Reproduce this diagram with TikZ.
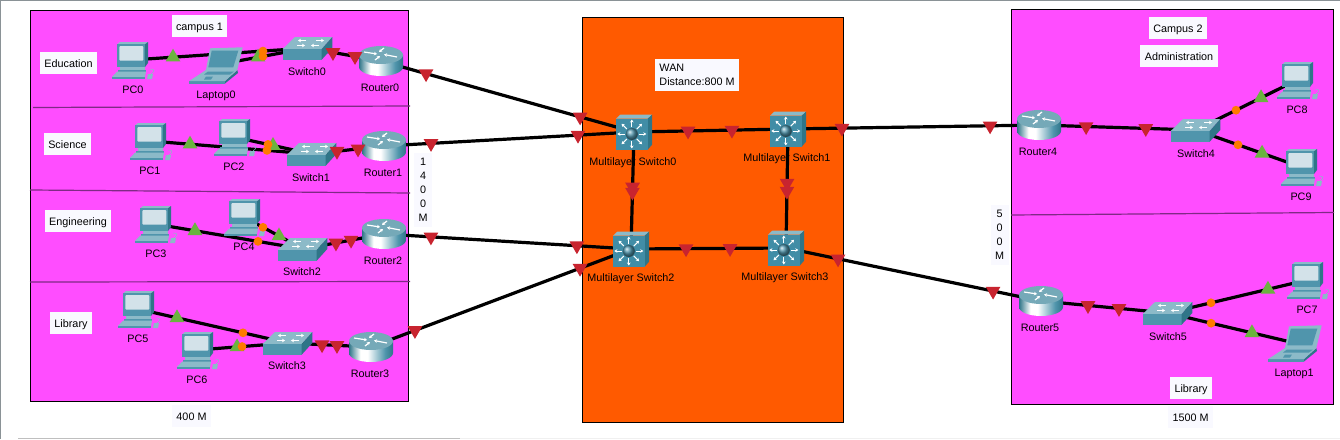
\documentclass[tikz,border=0pt]{standalone}
\usepackage{fontspec}
\setmainfont{Liberation Sans}
\usetikzlibrary{shapes.geometric,arrows.meta}
\definecolor{campusfill}{HTML}{FF4DFF}
\definecolor{wanfill}{HTML}{FF5A00}
\definecolor{boxwhite}{HTML}{F9F9FF}
\definecolor{rule}{HTML}{7F2A85}
\definecolor{iconmid}{HTML}{5095AC}
\definecolor{icondark}{HTML}{2F7588}
\definecolor{iconlight}{HTML}{8CBAC8}
\definecolor{iconscreen}{HTML}{D3E2E9}
\definecolor{mlsmid}{HTML}{418DA6}
\definecolor{redmk}{HTML}{C8242F}
\definecolor{greenmk}{HTML}{6BB33F}
\definecolor{orangemk}{HTML}{FF7A00}
\definecolor{edgegray}{HTML}{8A9296}
\pgfdeclarehorizontalshading{routerside}{100bp}{color(0bp)=(icondark); color(25bp)=(icondark); color(38bp)=(white); color(46bp)=(white); color(66bp)=(iconmid); color(75bp)=(icondark); color(100bp)=(icondark)}
\begin{document}
\begin{tikzpicture}
[
x=1pt, y=-1pt,
every node/.style={font=\fontsize{10.8}{14}\selectfont},
dev/.style={inner sep=0pt, outer sep=0pt, minimum size=0pt},
lbl/.style={inner sep=0pt, text=black, yshift=-.9pt},
textbox/.style={fill=boxwhite, inner xsep=4.5pt, inner ysep=0pt, text height=9.2pt, text depth=0pt, minimum height=22pt, align=center},
stackbox/.style={fill=boxwhite, inner xsep=4.5pt, inner ysep=5pt, align=center},
area/.style={draw=black, line width=1pt},
hrule/.style={draw=rule, line width=1.2pt},
wire/.style={draw=black, line width=3.2pt},
redmark/.style={regular polygon, regular polygon sides=3, shape border rotate=180, fill=redmk, inner sep=0pt, minimum size=17pt},
greenmark/.style={regular polygon, regular polygon sides=3, fill=greenmk, inner sep=0pt, minimum size=17pt},
orangemark/.style={circle, fill=orangemk, inner sep=0pt, minimum size=8.8pt},
tip/.style={-{Stealth[length=3pt,width=3.6pt]}, white, line width=1pt},
pcicon/.pic={
  \fill[iconlight] (-14.7,-15.7) -- (-12,-18) -- (16,-18) -- (13,-15.7) -- cycle;
  \fill[icondark] (13,-15.7) -- (16,-18) -- (16,3) -- (13,7) -- cycle;
  \fill[iconmid] (-14.7,-15.7) rectangle (13,7);
  \fill[iconscreen, rounded corners=1pt] (-12.7,-14) rectangle (11.3,.7);
  \fill[iconlight] (-12,7) rectangle (13,9.5);
  \fill[iconmid] (-14,9.5) rectangle (14,11.7);
  \fill[iconlight] (-15,11.7) -- (14,11.7) -- (13,17) -- (-20,17) -- cycle;
  \fill[iconmid] (-20,17) rectangle (13,19);
  \fill[iconlight] (16,14) -- (21,14) -- (20,19) -- (15,19) -- cycle;
  \draw[iconlight, line width=.5pt] (19,14) .. controls (23,11) and (23,9) .. (18,9);
},
laptopicon/.pic={
  \fill[iconlight] (-6,-16.7) -- (26.7,-17.7) -- (21.3,5) -- (-10,5) -- cycle;
  \fill[iconmid] (-4.3,-14.3) -- (22.3,-14.3) -- (17.3,2.3) -- (-7.7,2.3) -- cycle;
  \fill[iconmid] (-26.7,16) -- (9,16) -- (9,18.5) -- (-26.7,18.5) -- cycle;
  \fill[icondark] (21.3,5) -- (22,8) -- (9,18.5) -- (9,16) -- cycle;
  \fill[iconlight] (-10,5) -- (21.3,5) -- (9,16) -- (-26.7,16) -- cycle;
  \fill[iconmid] (-8,6.5) -- (18,6.5) -- (14,9.5) -- (-12,9.5) -- cycle;
  \fill[iconmid] (-10,11.5) -- (-3,11.5) -- (-5,14.5) -- (-12,14.5) -- cycle;
},
switchicon/.pic={
  \fill[iconlight] (-25.3,1) -- (-13,-11) -- (24.3,-11) -- (13.7,1) -- cycle;
  \fill[iconmid] (-25.3,1) rectangle (13.7,11.7);
  \fill[icondark] (13.7,1) -- (24.3,-11) -- (24.3,0) -- (13.7,11.7) -- cycle;
  \draw[tip, line width=.8pt] (-2,-7.5) -- (-10,-7.5);
  \draw[tip, line width=.8pt] (8,-7.5) -- (16,-7.5);
  \draw[tip, line width=.8pt] (-11,-2.5) -- (-3,-2.5);
  \draw[tip, line width=.8pt] (11,-2.5) -- (3,-2.5);
},
routericon/.pic={
  \shade[shading=routerside] (-22,-6) -- (-22,6) arc[start angle=180, end angle=0, x radius=22, y radius=9] -- (22,-6) -- cycle;
  \fill[iconlight!75!icondark] (0,-6) ellipse [x radius=22, y radius=9];
  \draw[tip, line width=1.2pt] (-17,-9) -- (-4,-7);
  \draw[tip, line width=1.2pt] (16,-4) -- (3,-6.5);
  \draw[tip, line width=1.2pt] (-6,-1) -- (-1,-5);
  \draw[tip, line width=1.2pt] (3,-13) -- (-2,-9);
},
mlsicon/.pic={
  \fill[iconlight] (-18,-13.3) -- (-13.7,-17.3) -- (18,-17.3) -- (13.7,-13.3) -- cycle;
  \fill[icondark] (13.7,-13.3) -- (18,-17.3) -- (18,12.7) -- (13.7,17.7) -- cycle;
  \fill[mlsmid] (-18,-13.3) rectangle (13.7,17.7);
  \begin{scope}[shift={(-2.2,2)}]
    \foreach \a in {0,45,...,315}
      \draw[tip] (\a:7) -- (\a:14.5);
    \shade[ball color=iconmid] (0,0) circle (6);
  \end{scope}
}
]
\useasboundingbox (0,0) rectangle (1340,439);

%Areas
\draw[area, fill=campusfill] (30.5,10.5) rectangle (408,401.5);
\draw[area, fill=wanfill]    (582.5,17) rectangle (843,422);
\draw[area, fill=campusfill] (1011,9.5) rectangle (1333,404);
\draw[hrule] (33,107.5) -- (410,106);
\draw[hrule] (30,190) -- (410,193);
\draw[hrule] (30,282) -- (410,281.5);
\draw[hrule] (1011,215) -- (1334,212.5);
\draw[color=edgegray, line width=1.5pt] (0,.7) -- (1340,.7);
\draw[color=edgegray, line width=1.5pt] (.7,0) -- (.7,439);
\draw[color=gray!50, line width=1pt] (18,438.5) -- (460,438.5);
\draw[color=gray!12, line width=1pt] (460,438.5) -- (1340,438.5);

%Text boxes
\node[textbox] (campusa)  at (199.5,26)  {campus 1};
\node[textbox] (educ)     at (68.5,63)   {Education};
\node[textbox] (scie)     at (67.5,144)  {Science};
\node[textbox] (engi)     at (78,221)    {Engineering};
\node[textbox] (libra)    at (71,323)    {Library};
\node[textbox] (dista)    at (191.5,416) {400 M};
\node[stackbox] (distb)   at (423,190)   {1\\4\\0\\0\\M};
\node[stackbox, align=left] (wan) at (697,75) {WAN\\Distance:800 M};
\node[textbox] (campusb)  at (1178,28)   {Campus 2};
\node[textbox] (admin)    at (1179,56)   {Administration};
\node[stackbox] (distc)   at (999.5,235) {5\\0\\0\\M};
\node[textbox] (librb)    at (1191,388)  {Library};
\node[textbox] (distd)    at (1190.5,417) {1500 M};

%Devices
\node[dev] (pc0)  at (132,60)   {};
\node[dev] (pc1)  at (150,141)  {};
\node[dev] (pc2)  at (234,137)  {};
\node[dev] (pc3)  at (155,224)  {};
\node[dev] (pc4)  at (244,217)  {};
\node[dev] (pc5)  at (138,309)  {};
\node[dev] (pc6)  at (197,350)  {};
\node[dev] (pc7)  at (1307,280) {};
\node[dev] (pc8)  at (1297,80)  {};
\node[dev] (pc9)  at (1301,167) {};
\node[dev] (lap0) at (216,65)   {};
\node[dev] (lap1) at (1295,343) {};
\node[dev] (sw0)  at (308,48)   {};
\node[dev] (sw1)  at (312,154)  {};
\node[dev] (sw2)  at (303,249)  {};
\node[dev] (sw3)  at (288,343)  {};
\node[dev] (sw4)  at (1196,130) {};
\node[dev] (sw5)  at (1168,313) {};
\node[dev] (rt0)  at (381,61)   {};
\node[dev] (rt1)  at (384,146)  {};
\node[dev] (rt2)  at (384,234)  {};
\node[dev] (rt3)  at (371,347)  {};
\node[dev] (rt4)  at (1039,125) {};
\node[dev] (rt5)  at (1041,301) {};
\node[dev] (ms0)  at (634,132)  {};
\node[dev] (ms1)  at (788,129)  {};
\node[dev] (ms2)  at (631,249)  {};
\node[dev] (ms3)  at (786,248)  {};

%Labels
\node[lbl] (pc0t)  at (133,89)   {PC0};
\node[lbl] (pc1t)  at (150,170)  {PC1};
\node[lbl] (pc2t)  at (234,166)  {PC2};
\node[lbl] (pc3t)  at (156,253)  {PC3};
\node[lbl] (pc4t)  at (244,246)  {PC4};
\node[lbl] (pc5t)  at (138,338)  {PC5};
\node[lbl] (pc6t)  at (197,379)  {PC6};
\node[lbl] (pc7t)  at (1307,309) {PC7};
\node[lbl] (pc8t)  at (1297,109) {PC8};
\node[lbl] (pc9t)  at (1301,196) {PC9};
\node[lbl] (lap0t) at (216,95)   {Laptop0};
\node[lbl] (lap1t) at (1294,373) {Laptop1};
\node[lbl] (sw0t)  at (307,71)   {Switch0};
\node[lbl] (sw1t)  at (311,177)  {Switch1};
\node[lbl] (sw2t)  at (302,271)  {Switch2};
\node[lbl] (sw3t)  at (287,365)  {Switch3};
\node[lbl] (sw4t)  at (1196,153) {Switch4};
\node[lbl] (sw5t)  at (1168,336) {Switch5};
\node[lbl] (rt0t)  at (380,87)   {Router0};
\node[lbl] (rt1t)  at (383,172)  {Router1};
\node[lbl] (rt2t)  at (383,260)  {Router2};
\node[lbl] (rt3t)  at (370,373)  {Router3};
\node[lbl] (rt4t)  at (1038,151) {Router4};
\node[lbl] (rt5t)  at (1040,327) {Router5};
\node[lbl] (ms0t)  at (633,162)  {Multilayer Switch0};
\node[lbl] (ms1t)  at (787,158)  {Multilayer Switch1};
\node[lbl] (ms2t)  at (631,278)  {Multilayer Switch2};
\node[lbl] (ms3t)  at (785,277)  {Multilayer Switch3};

%Lines
\foreach \a/\b in {pc0/sw0,lap0/sw0,sw0/rt0,pc1/sw1,pc2/sw1,sw1/rt1,pc3/sw2,pc4/sw2,sw2/rt2,pc5/sw3,pc6/sw3,sw3/rt3,
  rt0/ms0,rt1/ms0,rt2/ms2,rt3/ms2,ms0/ms1,ms0/ms2,ms1/ms3,ms2/ms3,ms1/rt4,ms3/rt5,
  rt4/sw4,sw4/pc8,sw4/pc9,rt5/sw5,sw5/pc7,sw5/lap1}
  \draw[wire] (\a) -- (\b);

%Icons
\foreach \n in {pc0,pc1,pc2,pc3,pc4,pc5,pc6,pc7,pc8,pc9}
  \pic at (\n) {pcicon};
\foreach \n in {lap0,lap1}
  \pic at (\n) {laptopicon};
\foreach \n in {sw0,sw1,sw2,sw3,sw4,sw5}
  \pic at (\n) {switchicon};
\foreach \n in {rt0,rt1,rt2,rt3,rt4,rt5}
  \pic at (\n) {routericon};
\foreach \n in {ms0,ms1,ms2,ms3}
  \pic at (\n) {mlsicon};

%Link lights
\foreach \a/\b/\p [count=\i] in {sw0/rt0/.342,sw0/rt0/.644,sw1/rt1/.347,sw1/rt1/.639,sw2/rt2/.407,sw2/rt2/.593,sw3/rt3/.41,sw3/rt3/.59,
  rt0/ms0/.178,rt0/ms0/.787,rt1/ms0/.188,rt1/ms0/.776,rt2/ms2/.19,rt2/ms2/.781,rt3/ms2/.169,rt3/ms2/.804,
  ms0/ms1/.351,ms0/ms1/.636,ms0/ms2/.47,ms0/ms2/.513,ms1/ms3/.454,ms1/ms3/.521,ms2/ms3/.355,ms2/ms3/.639,
  ms1/rt4/.215,ms1/rt4/.805,ms3/rt5/.204,ms3/rt5/.812,rt4/sw4/.3,rt4/sw4/.68,rt5/sw5/.37,rt5/sw5/.614}
  \path (\a) -- node[redmark, pos=\p] (red\i) {} (\b);
\foreach \a/\b/\p [count=\i] in {pc0/sw0/.233,lap0/sw0/.457,pc1/sw1/.247,pc2/sw1/.5,pc3/sw2/.27,pc4/sw2/.593,pc5/sw3/.26,pc6/sw3/.44,
  sw4/pc8/.644,sw4/pc9/.629,sw5/pc7/.719,sw5/lap1/.661}
  \path (\a) -- node[greenmark, pos=\p] (green\i) {} (\b);
\foreach \a/\b/\p [count=\i] in {pc0/sw0/.744,lap0/sw0/.51,pc1/sw1/.722,pc2/sw1/.436,pc3/sw2/.696,pc4/sw2/.322,pc5/sw3/.7,pc6/sw3/.495,
  sw4/pc8/.396,sw4/pc9/.4,sw5/pc7/.309,sw5/lap1/.339}
  \path (\a) -- node[orangemark, pos=\p] (orange\i) {} (\b);
\end{tikzpicture}
\end{document}
